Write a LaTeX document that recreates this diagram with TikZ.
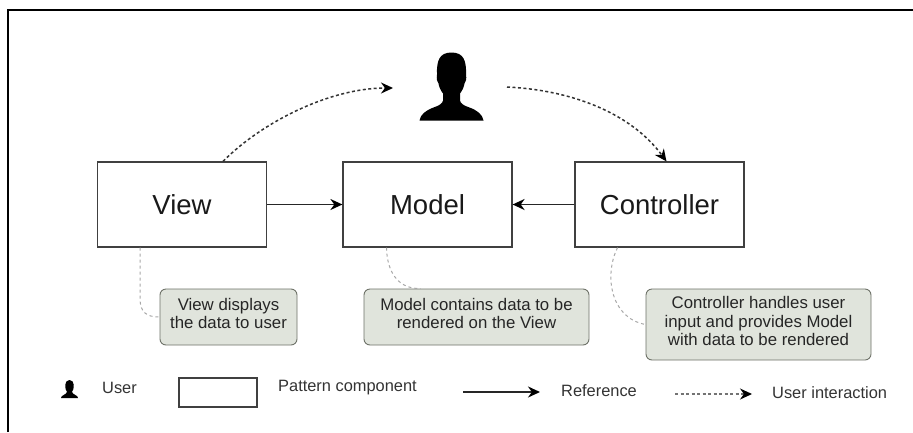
\documentclass[tikz,border=0pt]{standalone}
\usepackage{fontspec}
\setmainfont{Liberation Sans}
\usetikzlibrary{arrows.meta}
\definecolor{notefill}{HTML}{E0E4DC}
\definecolor{noteline}{HTML}{6E7268}
\definecolor{leadgray}{HTML}{A8A8A8}
\tikzset{
    comp/.style={draw=black!75, line width=1.2pt, fill=white, inner sep=0pt, font=\fontsize{27.5}{30}\selectfont, text=black!90},
    note/.style={draw=noteline, line width=0.9pt, fill=notefill, rounded corners=6pt, inner sep=0pt, align=center, text depth=7pt, font=\fontsize{16.8}{18.2}\selectfont, text=black!85},
    ref/.style={black!85, line width=1.8pt, -{Stealth[length=12pt,width=11pt,color=black]}},
    act/.style={black!80, line width=1.5pt, dash pattern=on 3pt off 2.5pt, -{Stealth[length=12pt,width=11pt,color=black]}},
    lead/.style={leadgray, line width=1pt, dash pattern=on 3pt off 3pt},
    lab/.style={font=\fontsize{16.4}{18}\selectfont, text=black!80, inner sep=0pt},
}
\begin{document}
\begin{tikzpicture}[x=1pt, y=-1pt]
    \useasboundingbox (0,0) rectangle (913,432);
    \fill[white] (0,0) rectangle (913,432);
    % frame
    \draw[black, line width=1.5pt] (8,432) -- (8,10) -- (913,10);
    % user
    \begin{scope}[shift={(451.5,120.5)}]
        \fill[black] (-32,0) .. controls (-31,-6) and (-26,-10) .. (-18,-13) .. controls (-12,-15) and (-9,-17) .. (-8.5,-20)
            -- (-8.5,-27) .. controls (-11,-30) and (-12.5,-34) .. (-13,-37) .. controls (-15,-39) and (-15,-42) .. (-14.5,-46)
            .. controls (-15,-60) and (-12,-68) .. (0,-68) .. controls (12,-68) and (15,-60) .. (14.5,-46)
            .. controls (15,-42) and (15,-39) .. (13,-37) .. controls (12.5,-34) and (11,-30) .. (8.5,-27)
            -- (8.5,-20) .. controls (9,-17) and (12,-15) .. (18,-13) .. controls (26,-10) and (31,-6) .. (32,0) -- cycle;
    \end{scope}
    \coordinate (userin) at (393,88);
    \coordinate (userout) at (507,87);
    % components
    \node[comp, minimum width=169pt, minimum height=85pt] (view) at (182,204.5) {View};
    \node[comp, minimum width=169pt, minimum height=85pt] (model) at (427.5,204.5) {Model};
    \node[comp, minimum width=169pt, minimum height=85pt] (controller) at (659.5,204.5) {Controller};
    % notes
    \node[note, minimum width=137pt, minimum height=56pt] (viewnote) at (228.5,317) {View displays\\the data to user};
    \node[note, minimum width=225pt, minimum height=56pt] (modelnote) at (476.5,317) {Model contains data to be\\rendered on the View};
    \node[note, minimum width=225pt, minimum height=71pt] (controllernote) at (758.5,324.5) {Controller handles user\\input and provides Model\\with data to be rendered};
    % references
    \draw[ref] (view) -- (model);
    \draw[ref] (controller) -- (model);
    % interaction
    \draw[act] ([xshift=41pt]view.north) .. controls (262,122) and (330,88) .. (userin);
    \draw[act] (userout) .. controls (570,90) and (630,112) .. ([xshift=7pt]controller.north);
    % leaders
    \draw[lead] ([xshift=-42pt]view.south) -- (140,298) .. controls (140,312) and (146,317) .. (viewnote.west);
    \draw[lead] ([xshift=-41pt]model.south) .. controls (387,272) and (398,289) .. ([xshift=-56pt]modelnote.north);
    \draw[lead] ([xshift=-42pt]controller.south) .. controls (604,275) and (610,318) .. (controllernote.west);
    % legend
    \begin{scope}[shift={(69.5,398)}]
        \fill[black] (-8.5,0) .. controls (-8.5,-3) and (-3.5,-3) .. (-2.5,-6) .. controls (-5,-9) and (-5.5,-18) .. (0,-18)
            .. controls (5.5,-18) and (5,-9) .. (2.5,-6) .. controls (3.5,-3) and (8.5,-3) .. (8.5,0) -- cycle;
    \end{scope}
    \node[lab, anchor=west] (userlab) at (102,388) {User};
    \node[comp, minimum width=78pt, minimum height=29pt] (legbox) at (218,392.5) {};
    \node[lab, anchor=west] (complab) at (278,388) {Pattern component};
    \coordinate (refa) at (463,392);
    \coordinate (refb) at (540,392);
    \draw[ref] (refa) -- (refb);
    \node[lab, anchor=west] (reflab) at (561,391) {Reference};
    \coordinate (acta) at (675,394);
    \coordinate (actb) at (752,394);
    \draw[act, line width=1.1pt, black!55] (acta) -- (actb);
    \node[lab, anchor=west] (actlab) at (772,393) {User interaction};
\end{tikzpicture}
\end{document}
